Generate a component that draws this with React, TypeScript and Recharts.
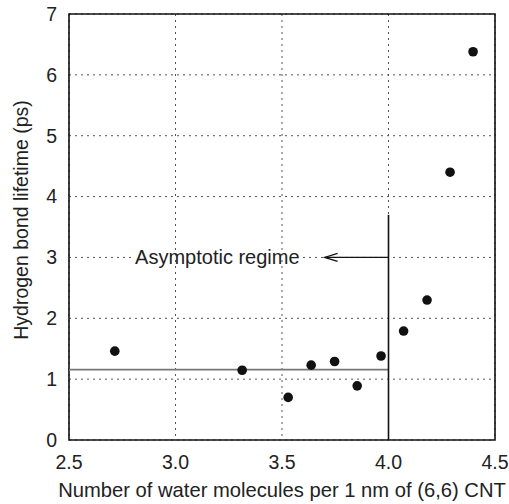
import {
  ComposedChart, Scatter, XAxis, YAxis, CartesianGrid,
  ReferenceLine, ReferenceArea, Label,
} from "recharts";

// ─── Data ────────────────────────────────────────────────
const waterPerNm = [2.715, 3.313, 3.529, 3.637, 3.747, 3.853, 3.965, 4.071, 4.181, 4.289, 4.397];
const lifetimePs = [1.46, 1.146, 0.7, 1.23, 1.29, 0.89, 1.38, 1.79, 2.3, 4.4, 6.38];

const xTicks = [2.5, 3.0, 3.5, 4.0, 4.5];
const yTicks = [0, 1, 2, 3, 4, 5, 6, 7];

const asymptoteLevel = 1.157;
const regimeBoundary = 4.0;
const boundaryTop = 3.7;
const arrowLevel = 3;
const arrowTip = 3.7;
const regimeLabel = "Asymptotic regime";

const points = waterPerNm.map((x, i) => ({ x, y: lifetimePs[i] }));

const FONT = "'Liberation Sans', Arial, Helvetica, sans-serif";
const INK = "#222";

// open-headed arrow + label with a white strip hiding the gridline
function ArrowShape(p: any) {
  const { x1, y1, x2 } = p;
  const y = y1;
  const textEnd = x2 - 25;
  const textW = 166;
  return (
    <g>
      <rect x={textEnd - textW - 2} y={y - 2} width={textW + 4} height={4} fill="#fff" />
      <line x1={x1} y1={y} x2={x2} y2={y} stroke="#111" strokeWidth={1.2} />
      <polyline
        points={`${x2 + 13},${y - 4} ${x2},${y} ${x2 + 13},${y + 4}`}
        fill="none" stroke="#111" strokeWidth={1.2}
      />
      <text x={textEnd} y={y + 7} textAnchor="end" fontSize={20} fill={INK} fontFamily={FONT}>
        {regimeLabel}
      </text>
    </g>
  );
}

function Dot(p: any) {
  return <circle cx={p.cx} cy={p.cy} r={4.8} fill="#111" />;
}

export default function App() {
  return (
    <div style={{ position: "absolute", left: 0, top: 0, background: "#fff", fontFamily: FONT }}>
      <ComposedChart
        width={509}
        height={504}
        data={points}
        margin={{ top: 14, right: 14, left: 0, bottom: 0 }}
      >
        <CartesianGrid stroke="#555" strokeDasharray="2 4" strokeWidth={1} />
        <XAxis
          type="number"
          dataKey="x"
          domain={[2.5, 4.5]}
          ticks={xTicks}
          tickFormatter={(v: number) => v.toFixed(1)}
          axisLine={false}
          tickLine={false}
          tickSize={0}
          tickMargin={15}
          height={64}
          tick={{ fontSize: 19.5, fill: INK, fontFamily: FONT }}
          allowDataOverflow
        >
          <Label
            content={({ viewBox }: any) => (
              <text
                x={viewBox.x + viewBox.width / 2}
                y={viewBox.y + viewBox.height - 7}
                textAnchor="middle"
                fontSize={20.2}
                fill={INK}
                fontFamily={FONT}
              >
                Number of water molecules per 1 nm of (6,6) CNT
              </text>
            )}
          />
        </XAxis>
        <YAxis
          type="number"
          dataKey="y"
          domain={[0, 7]}
          ticks={yTicks}
          axisLine={false}
          tickLine={false}
          tickSize={0}
          tickMargin={12}
          width={69}
          tick={{ fontSize: 19.5, fill: INK, fontFamily: FONT }}
          allowDataOverflow
        >
          <Label
            content={({ viewBox }: any) => {
              const cx = viewBox.x + 21;
              const cy = viewBox.y + viewBox.height / 2 - 7;
              return (
                <text
                  x={cx}
                  y={cy}
                  transform={`rotate(-90 ${cx} ${cy})`}
                  textAnchor="middle"
                  dominantBaseline="central"
                  fontSize={19.5}
                  fill={INK}
                  fontFamily={FONT}
                >
                  Hydrogen bond lifetime (ps)
                </text>
              );
            }}
          />
        </YAxis>

        <ReferenceArea
          x1={2.5} x2={4.5} y1={0} y2={7}
          fill="none" fillOpacity={0} stroke="#111" strokeWidth={1.6}
        />
        <ReferenceLine
          segment={[{ x: 2.5, y: asymptoteLevel }, { x: regimeBoundary, y: asymptoteLevel }]}
          stroke="#777" strokeWidth={1.6}
        />
        <ReferenceLine
          segment={[{ x: regimeBoundary, y: 0 }, { x: regimeBoundary, y: boundaryTop }]}
          stroke="#111" strokeWidth={1.6}
        />
        <ReferenceLine
          segment={[{ x: regimeBoundary, y: arrowLevel }, { x: arrowTip, y: arrowLevel }]}
          shape={ArrowShape}
        />

        <Scatter dataKey="y" shape={Dot} isAnimationActive={false} />
      </ComposedChart>
    </div>
  );
}
